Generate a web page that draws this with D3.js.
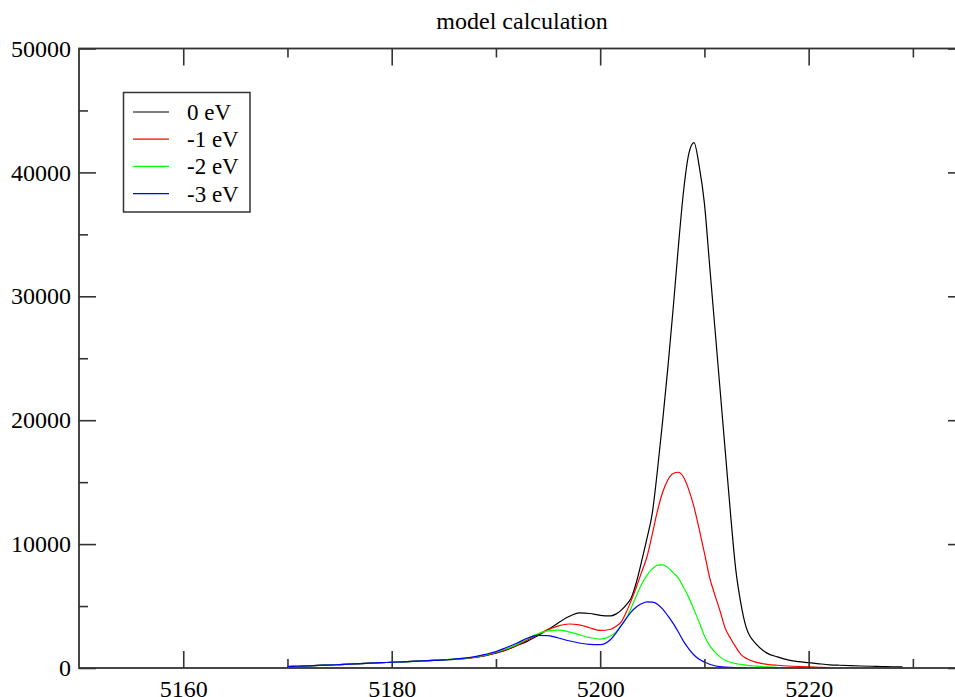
<!DOCTYPE html>
<html>
<head>
<meta charset="utf-8">
<script src="https://cdn.jsdelivr.net/npm/d3@7"></script>
<style>
  body { margin: 0; background: #fff; }
  svg text { font-family: "Liberation Serif", "Times New Roman", serif; }
</style>
</head>
<body>
<svg id="chart" width="955" height="697"></svg>
<script>
// photon energy grid (eV)
const energy = [
  5170, 5171, 5172, 5173, 5174, 5175, 5176, 5177, 5178, 5179,
  5180, 5181, 5182, 5183, 5184, 5185, 5186, 5187, 5188, 5189,
  5190, 5191, 5192, 5193, 5194, 5195, 5196, 5197, 5198, 5199, 5200, 5201,
  5201.5, 5202, 5202.5, 5203, 5203.5, 5204, 5204.5, 5205, 5205.5, 5206,
  5206.5, 5207, 5207.5, 5208, 5208.5, 5209, 5209.5, 5210, 5210.5, 5211,
  5211.5, 5212, 5212.5, 5213, 5213.5, 5214,
  5215, 5216, 5217, 5218, 5219, 5220, 5221, 5222, 5223, 5224,
  5225, 5226, 5227, 5228, 5229
];

const shift0 = [
  110, 140, 170, 210, 240, 280, 320, 360, 390, 430,
  460, 500, 540, 580, 620, 660, 700, 760, 850, 1000,
  1200, 1450, 1800, 2150, 2600, 3100, 3650, 4150, 4450, 4400, 4250, 4200,
  4350, 4650, 5100, 5700, 7000, 8700, 10500, 12500, 16000, 20000,
  24300, 29000, 34000, 38500, 41500, 42400, 40500, 37500, 32500, 27500,
  22500, 17500, 12500, 8000, 5200, 3300,
  1900, 1200, 900, 650, 520, 430, 340, 260, 220, 190,
  160, 140, 120, 100, 90
];

const shift1 = [
  110, 140, 170, 210, 240, 280, 320, 360, 390, 430,
  460, 500, 540, 580, 620, 660, 710, 770, 870, 1020,
  1230, 1500, 1850, 2250, 2700, 3100, 3400, 3550, 3480, 3250, 3030, 3130,
  3350, 3700, 4500, 5500, 6600, 7800, 9000, 10800, 12700, 14200,
  15200, 15700, 15800, 15400, 14400, 13000, 11200, 9300, 7300, 5900,
  4600, 3200, 2400, 1700, 1100, 780,
  450, 300, 220, 160, 120, 90, 60, 40
];

const shift2 = [
  110, 140, 170, 210, 240, 280, 320, 360, 390, 430,
  460, 500, 540, 580, 620, 660, 710, 780, 890, 1060,
  1270, 1550, 1900, 2350, 2750, 3000, 3050, 2920, 2680, 2450, 2330, 2580,
  2900, 3400, 4000, 4900, 5900, 6800, 7500, 8000, 8300, 8320,
  8100, 7700, 7250, 6500, 5700, 4700, 3700, 2600, 1800, 1300,
  900, 620, 460, 360, 290, 230,
  150, 90, 60
];

const shift3 = [
  110, 140, 170, 210, 240, 280, 320, 360, 390, 430,
  460, 500, 540, 570, 610, 650, 720, 800, 920, 1100,
  1320, 1650, 2000, 2400, 2640, 2620, 2420, 2200, 2020, 1900, 1880, 2300,
  2800, 3400, 4000, 4550, 4950, 5200, 5330, 5320, 5150, 4750,
  4200, 3600, 2900, 2150, 1550, 1050, 700, 480, 300, 180,
  110, 70, 50, 35, 25, 20
];

const seriesNames = ["0 eV", "-1 eV", "-2 eV", "-3 eV"];
const seriesColors = ["#000000", "#ff0000", "#00ff00", "#0000ff"];
const seriesValues = [shift0, shift1, shift2, shift3];

const xMajor = [5160, 5180, 5200, 5220];
const xMinor = [5170, 5190, 5210, 5230];
const yMajor = [0, 10000, 20000, 30000, 40000, 50000];
const yMinor = [5000, 15000, 25000, 35000, 45000];

const svg = d3.select("#chart");
const frame = { left: 79, right: 965, top: 48.5, bottom: 668 };

const x = d3.scaleLinear().domain([5150, 5235]).range([frame.left, frame.right]);
const y = d3.scaleLinear().domain([0, 50000]).range([frame.bottom, frame.top]);

// title
svg.append("text")
  .attr("x", (frame.left + frame.right) / 2)
  .attr("y", 29)
  .attr("text-anchor", "middle")
  .attr("font-size", 24)
  .attr("fill", "#000")
  .text("model calculation");

// curves, black first so blue ends up on top
const line = d3.line()
  .x((d) => x(d[0]))
  .y((d) => y(d[1]))
  .curve(d3.curveMonotoneX);

const curves = svg.append("g");
seriesValues.forEach((vals, i) => {
  const pts = vals.map((v, j) => [energy[j], v]);
  curves.append("path")
    .datum(pts)
    .attr("fill", "none")
    .attr("stroke", seriesColors[i])
    .attr("stroke-width", 1.2)
    .attr("d", line);
});

// axes: ticks point into the frame
const axisStyle = (g) => {
  g.attr("font-family", null).attr("font-size", null);
  g.select(".domain").remove();
  g.selectAll(".tick line").attr("stroke", "#333").attr("stroke-width", 1.6);
  g.selectAll("text").attr("font-size", 24).attr("fill", "#000");
};

svg.append("g")
  .attr("transform", `translate(0,${frame.bottom})`)
  .call(d3.axisBottom(x).tickValues(xMajor).tickSize(-17).tickPadding(12).tickFormat(d3.format("d")))
  .call(axisStyle);
svg.append("g")
  .attr("transform", `translate(0,${frame.bottom})`)
  .call(d3.axisBottom(x).tickValues(xMinor).tickSize(-9).tickFormat(""))
  .call(axisStyle);
svg.append("g")
  .attr("transform", `translate(0,${frame.top})`)
  .call(d3.axisTop(x).tickValues(xMajor).tickSize(-17).tickFormat(""))
  .call(axisStyle);
svg.append("g")
  .attr("transform", `translate(0,${frame.top})`)
  .call(d3.axisTop(x).tickValues(xMinor).tickSize(-9).tickFormat(""))
  .call(axisStyle);

svg.append("g")
  .attr("transform", `translate(${frame.left},0)`)
  .call(d3.axisLeft(y).tickValues(yMajor).tickSize(-17).tickPadding(8).tickFormat(d3.format("d")))
  .call(axisStyle);
svg.append("g")
  .attr("transform", `translate(${frame.left},0)`)
  .call(d3.axisLeft(y).tickValues(yMinor).tickSize(-9).tickFormat(""))
  .call(axisStyle);
svg.append("g")
  .attr("transform", `translate(${frame.right},0)`)
  .call(d3.axisRight(y).tickValues(yMajor).tickSize(-17).tickFormat(""))
  .call(axisStyle);
svg.append("g")
  .attr("transform", `translate(${frame.right},0)`)
  .call(d3.axisRight(y).tickValues(yMinor).tickSize(-9).tickFormat(""))
  .call(axisStyle);

// frame
svg.append("rect")
  .attr("x", frame.left)
  .attr("y", frame.top)
  .attr("width", frame.right - frame.left)
  .attr("height", frame.bottom - frame.top)
  .attr("fill", "none")
  .attr("stroke", "#333")
  .attr("stroke-width", 1.8);

// legend
const legend = svg.append("g").attr("transform", "translate(123.5,92.5)");
legend.append("rect")
  .attr("width", 126.5)
  .attr("height", 119.5)
  .attr("fill", "#fff")
  .attr("stroke", "#333")
  .attr("stroke-width", 1.5);

const rows = legend.selectAll(".row")
  .data(seriesNames)
  .join("g")
  .attr("class", "row")
  .attr("transform", (d, i) => `translate(0,${19.5 + i * 27.2})`);
rows.append("line")
  .attr("x1", 9.5)
  .attr("x2", 45.5)
  .attr("stroke", (d, i) => seriesColors[i])
  .attr("stroke-width", 1.2);
rows.append("text")
  .attr("x", 63.5)
  .attr("y", 8)
  .attr("font-size", 23)
  .attr("fill", "#000")
  .text((d) => d);
</script>
</body>
</html>
